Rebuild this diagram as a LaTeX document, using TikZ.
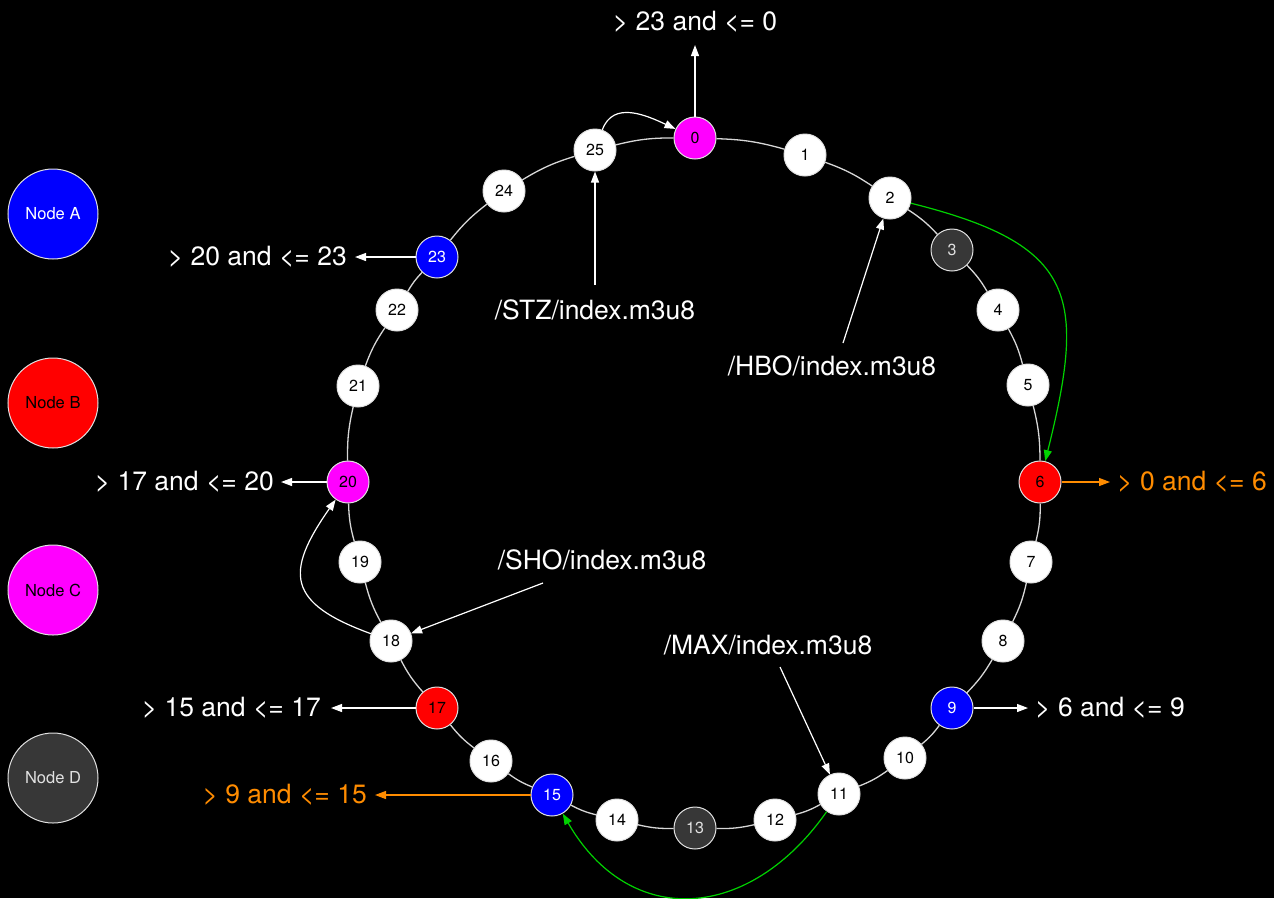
\documentclass[tikz,border=0pt]{standalone}
\usepackage{fontspec}
\setmainfont{TeX Gyre Heros}
\usetikzlibrary{arrows.meta,backgrounds}

\definecolor{ringline}{RGB}{215,215,215}
\definecolor{rimgray}{RGB}{225,225,225}
\definecolor{hashblue}{RGB}{0,0,255}
\definecolor{hashred}{RGB}{255,0,0}
\definecolor{hashmag}{RGB}{255,0,255}
\definecolor{hashdark}{RGB}{55,55,55}
\definecolor{hopgreen}{RGB}{0,210,0}
\definecolor{rangeorange}{RGB}{255,140,0}

\tikzset{
  slot/.style={circle, draw=rimgray, line width=1pt, minimum size=42pt,
    inner sep=0pt, fill=white, text=black, font=\fontsize{16}{16}\selectfont},
  ownA/.style={slot, fill=hashblue, text=white},
  ownB/.style={slot, fill=hashred, text=black},
  ownC/.style={slot, fill=hashmag, text=black},
  ownD/.style={slot, fill=hashdark, text=rimgray},
  legend/.style={minimum size=90pt, font=\fontsize{16.5}{17}\selectfont},
  ring/.style={draw=ringline, line width=1.3pt},
  tip/.style={-{Triangle[length=11pt,width=8pt]}},
  pointer/.style={draw=white, line width=1.2pt, tip},
  hop/.style={draw=hopgreen, line width=1.2pt, tip},
  rangearrow/.style={draw=white, line width=1.2pt, tip},
  orangearrow/.style={draw=rangeorange, line width=1.2pt, tip},
  caption/.style={text=white, inner sep=0pt, font=\fontsize{26.5}{30}\selectfont},
  orangecaption/.style={caption, text=rangeorange}
}

\begin{document}
\begin{tikzpicture}[x=1pt,y=1pt]
  \useasboundingbox (0,0) rectangle (1274,-898);

  % legend
  \node[ownA, legend] (legA) at (53,-214) {Node A};
  \node[ownB, legend] (legB) at (53,-403) {Node B};
  \node[ownC, legend] (legC) at (53,-590) {Node C};
  \node[ownD, legend] (legD) at (53,-778) {Node D};

  % hash ring slots
  \foreach \i/\px/\py/\st in {
      0/695/138/ownC, 1/805/155/slot, 2/890/198/slot, 3/952/250/ownD,
      4/998/310/slot, 5/1028/385/slot, 6/1040/482/ownB, 7/1031/562/slot,
      8/1003/641/slot, 9/952/708/ownA, 10/905/758/slot, 11/839/794/slot,
      12/775/820/slot, 13/695/828/ownD, 14/617/820/slot, 15/552/795/ownA,
      16/491/761/slot, 17/437/708/ownB, 18/391/641/slot, 19/360/562/slot,
      20/348/482/ownC, 21/358/386/slot, 22/397/310/slot, 23/437/257/ownA,
      24/504/191/slot, 25/595/150/slot}
    \node[\st] (n\i) at (\px,-\py) {\i};

  % black ground and ring segments behind the slots
  \begin{scope}[on background layer]
    \fill[black] (0,0) rectangle (1274,-898);
    \foreach \i [evaluate=\i as \j using {int(mod(\i+1,26))}] in {0,...,25}
      \draw[ring] (n\i) to[bend left=7] (n\j);
  \end{scope}

  % key ranges owned by each slot
  \coordinate (r0) at (695,-45);
  \draw[rangearrow] (n0) -- (r0);
  \node[caption] (c0) at (695,-22) {> 23 and <= 0};

  \coordinate (r23) at (355,-257);
  \draw[rangearrow] (n23) -- (r23);
  \node[caption, anchor=east] (c23) at (347,-257) {> 20 and <= 23};

  \coordinate (r20) at (281,-482);
  \draw[rangearrow] (n20) -- (r20);
  \node[caption, anchor=east] (c20) at (274,-482) {> 17 and <= 20};

  \coordinate (r17) at (331,-708);
  \draw[rangearrow] (n17) -- (r17);
  \node[caption, anchor=east] (c17) at (321,-708) {> 15 and <= 17};

  \coordinate (r15) at (375,-795);
  \draw[orangearrow] (n15) -- (r15);
  \node[orangecaption, anchor=east] (c15) at (367,-795) {> 9 and <= 15};

  \coordinate (r6) at (1110,-482);
  \draw[orangearrow] (n6) -- (r6);
  \node[orangecaption, anchor=west] (c6) at (1117,-482) {> 0 and <= 6};

  \coordinate (r9) at (1028,-708);
  \draw[rangearrow] (n9) -- (r9);
  \node[caption, anchor=west] (c9) at (1035,-708) {> 6 and <= 9};

  % stream keys hashed onto the ring
  \node[caption] (stz) at (595,-310) {/STZ/index.m3u8};
  \coordinate (stzfrom) at (595,-285);
  \draw[pointer] (stzfrom) -- (n25);

  \node[caption] (hbo) at (832,-366) {/HBO/index.m3u8};
  \coordinate (hbofrom) at (843,-343);
  \draw[pointer] (hbofrom) -- (n2);

  \node[caption] (sho) at (602,-560) {/SHO/index.m3u8};
  \coordinate (shofrom) at (543,-583);
  \draw[pointer] (shofrom) -- (n18);

  \node[caption] (max) at (768,-645) {/MAX/index.m3u8};
  \coordinate (maxfrom) at (780,-667);
  \draw[pointer] (maxfrom) -- (n11);

  % walking clockwise to the owning slot
  \draw[pointer] (n25) to[out=70, in=155, looseness=1.1] (n0);
  \draw[pointer] (n18) to[out=160, in=-125, looseness=1.65] (n20);
  \draw[hop] (n2) to[out=-14, in=76, looseness=1.5] (n6);
  \draw[hop] (n11) to[out=-125, in=-60, looseness=1.3] (n15);
\end{tikzpicture}
\end{document}
